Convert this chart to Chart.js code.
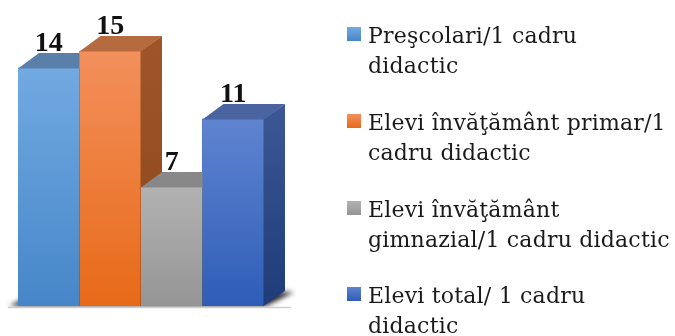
<!DOCTYPE html>
<html>
<head>
<meta charset="utf-8">
<script src="https://cdn.jsdelivr.net/npm/chart.js@4.4.1/dist/chart.umd.min.js"></script>
<style>
  body { margin: 0; background: #fff; }
  #wrap { position: relative; width: 675px; height: 336px; }
  #legend { position: absolute; left: 0; top: 0; }
  .item { position: absolute; left: 347px; font: 22px 'DejaVu Serif', serif; letter-spacing: 0.2px; line-height: 30px; color: #1a1a1a; }
  .box { position: absolute; left: 0; top: 6px; width: 14px; height: 14px; }
  .txt { margin-left: 21px; white-space: nowrap; }
</style>
</head>
<body>
<div id="wrap">
  <canvas id="chart" width="675" height="336"></canvas>
  <div id="legend"></div>
</div>
<script>
// date: elevi / preşcolari pe cadru didactic
const categories = [''];
const seriesNames = [
  ['Preşcolari/1 cadru', 'didactic'],
  ['Elevi învăţământ primar/1', 'cadru didactic'],
  ['Elevi învăţământ', 'gimnazial/1 cadru didactic'],
  ['Elevi total/ 1 cadru', 'didactic']
];
const seriesValues = [14, 15, 7, 11];

// culori pentru fata, capac si latura barelor 3D
const frontTop    = ['#72aae2', '#f3905c', '#b2b2b2', '#5f84d0'];
const frontBottom = ['#4686c8', '#e76a18', '#959595', '#2e5db7'];
const topFace     = ['#5a80aa', '#b66a3f', '#888888', '#4a64a0'];
const sideTop     = ['#4d6f98', '#a0562a', '#7a7a7a', '#3d5894'];
const sideBottom  = ['#2f5583', '#8a4519', '#5e5e5e', '#1f3c78'];

const DX = 21, DY = 15;

function poly(ctx, pts) {
  ctx.beginPath();
  ctx.moveTo(pts[0][0], pts[0][1]);
  for (let k = 1; k < pts.length; k++) ctx.lineTo(pts[k][0], pts[k][1]);
  ctx.closePath();
  ctx.fill();
}

const bar3d = {
  id: 'bar3d',
  beforeDatasetsDraw(chart) {
    const ctx = chart.ctx;
    const first = chart.getDatasetMeta(0).data[0];
    const last = chart.getDatasetMeta(chart.data.datasets.length - 1).data[0];
    const left = first.x - first.width / 2;
    const right = last.x + last.width / 2;
    const base = first.base;
    // umbra pe podea
    ctx.save();
    ctx.filter = 'blur(2.5px)';
    ctx.fillStyle = 'rgba(0,0,0,0.85)';
    poly(ctx, [[left - 9, base], [right + 2, base], [right + DX + 9, base - DY + 1], [left + DX, base - DY]]);
    ctx.restore();
    ctx.save();
    ctx.fillStyle = '#fff';
    ctx.fillRect(left - 20, base + 1, right - left + DX + 40, 10);
    ctx.strokeStyle = '#cfcfcf';
    ctx.lineWidth = 1.5;
    ctx.beginPath();
    ctx.moveTo(left - 10, base + 1.5);
    ctx.lineTo(right + DX + 6, base + 1.5);
    ctx.stroke();
    ctx.restore();
  },
  afterDatasetsDraw(chart) {
    const ctx = chart.ctx;
    ctx.save();
    chart.data.datasets.forEach((ds, i) => {
      const el = chart.getDatasetMeta(i).data[0];
      const left = el.x - el.width / 2;
      const right = el.x + el.width / 2;
      const top = el.y;
      const base = el.base;

      // fata
      const gf = ctx.createLinearGradient(0, top, 0, base);
      gf.addColorStop(0, frontTop[i]);
      gf.addColorStop(1, frontBottom[i]);
      ctx.fillStyle = gf;
      ctx.fillRect(left, top, right - left, base - top);

      // latura dreapta
      const gs = ctx.createLinearGradient(0, top - DY, 0, base);
      gs.addColorStop(0, sideTop[i]);
      gs.addColorStop(1, sideBottom[i]);
      ctx.fillStyle = gs;
      poly(ctx, [[right - 0.5, top], [right + DX, top - DY], [right + DX, base - DY], [right - 0.5, base]]);

      // capac
      ctx.fillStyle = topFace[i];
      poly(ctx, [[left, top + 0.5], [left + DX, top - DY], [right + DX, top - DY], [right, top + 0.5]]);
    });

    // etichete cu valori
    ctx.fillStyle = '#111';
    ctx.font = 'bold 28px "Liberation Serif", serif';
    ctx.textAlign = 'center';
    ctx.textBaseline = 'alphabetic';
    chart.data.datasets.forEach((ds, i) => {
      const el = chart.getDatasetMeta(i).data[0];
      ctx.fillText(String(ds.data[0]), el.x, el.y - DY - 2);
    });
    ctx.restore();
  }
};

const datasets = seriesValues.map((v, i) => ({
  label: seriesNames[i].join(' '),
  data: [v],
  backgroundColor: frontBottom[i],
  borderWidth: 0,
  categoryPercentage: 1,
  barPercentage: 1
}));

new Chart(document.getElementById('chart'), {
  type: 'bar',
  data: { labels: categories, datasets },
  options: {
    responsive: false,
    animation: false,
    layout: { padding: { left: 18, right: 411, top: 34, bottom: 30 } },
    plugins: { legend: { display: false }, tooltip: { enabled: false } },
    scales: {
      x: { display: false },
      y: { display: false, min: 0, max: 16 }
    }
  },
  plugins: [bar3d]
});

// legenda in dreapta
const legend = document.getElementById('legend');
const itemTops = [21, 108, 195, 281];
seriesNames.forEach((lines, i) => {
  const item = document.createElement('div');
  item.className = 'item';
  item.style.top = itemTops[i] + 'px';
  const box = document.createElement('div');
  box.className = 'box';
  box.style.background = `linear-gradient(${frontTop[i]}, ${frontBottom[i]})`;
  const txt = document.createElement('div');
  txt.className = 'txt';
  txt.innerHTML = lines.join('<br>');
  item.appendChild(box);
  item.appendChild(txt);
  legend.appendChild(item);
});
</script>
</body>
</html>
